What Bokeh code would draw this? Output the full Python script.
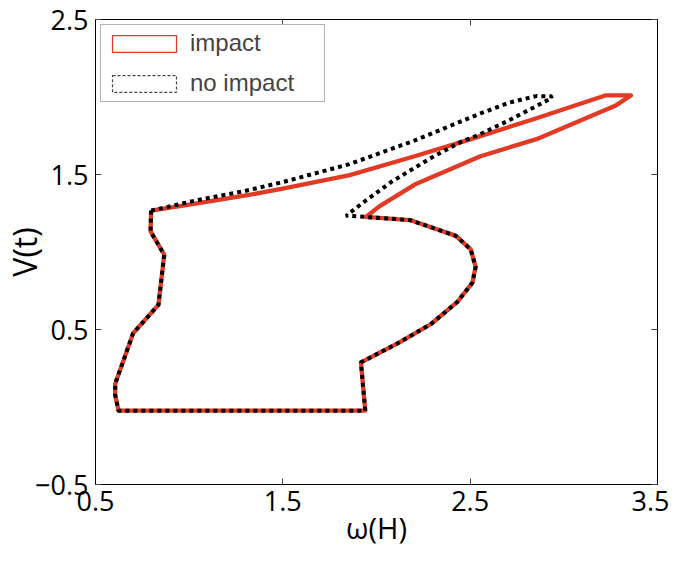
from bokeh.plotting import figure
from bokeh.models import LinearAxis, FixedTicker, Legend, LegendItem, Range1d
from bokeh.embed import file_html
from bokeh.resources import INLINE

# portion of the orbit shared by both cases (omega(H), V(t))
common_w = [0.797, 0.794, 0.867, 0.836, 0.701, 0.605, 0.605, 0.623, 1.940, 1.917,
            2.118, 2.293, 2.433, 2.512, 2.529, 2.503, 2.424, 2.179, 1.943]
common_v = [1.267, 1.133, 0.982, 0.659, 0.476, 0.149, 0.078, -0.024, -0.024, 0.288,
            0.414, 0.537, 0.680, 0.802, 0.904, 1.017, 1.104, 1.206, 1.226]

# "impact" branch (upper excursion)
impact_w = [2.015, 2.204, 2.555, 2.854, 3.274, 3.358, 3.221, 2.854, 2.487, 2.204,
            1.857, 1.506, 1.296, 1.034, 0.797]
impact_v = [1.294, 1.435, 1.618, 1.728, 1.943, 2.010, 2.010, 1.863, 1.722, 1.618,
            1.496, 1.410, 1.363, 1.312, 1.267]

# "no impact" branch (upper excursion)
noimpact_w = [1.838, 1.943, 2.083, 2.293, 2.450, 2.555, 2.713, 2.922, 2.938, 2.853,
              2.712, 2.555, 2.205, 1.856, 1.506, 1.296, 1.034, 0.797]
noimpact_v = [1.234, 1.332, 1.455, 1.608, 1.710, 1.761, 1.853, 1.985, 2.004, 2.006,
              1.965, 1.894, 1.720, 1.567, 1.453, 1.393, 1.332, 1.267]

x_ticks = [0.5, 1.5, 2.5, 3.5]
y_ticks = [-0.5, 0.5, 1.5, 2.5]
x_tick_labels = {0.5: "0.5", 1.5: "1.5", 2.5: "2.5", 3.5: "3.5"}
y_tick_labels = {-0.5: "\u22120.5", 0.5: "0.5", 1.5: "1.5", 2.5: "2.5"}

RED = "#e23a24"
TICK_FONT = "Open Sans"
NAN = float("nan")

p = figure(width=669, height=555, output_backend="svg", toolbar_location=None,
           x_range=Range1d(0.5, 3.5), y_range=Range1d(-0.5, 2.5),
           min_border_left=81, min_border_right=12, min_border_top=19,
           min_border_bottom=71)
p.xgrid.visible = False
p.ygrid.visible = False
p.outline_line_color = "black"
p.outline_line_width = 1
p.background_fill_color = "white"
p.border_fill_color = "white"

imp_x = common_w + impact_w
imp_y = common_v + impact_v
no_x = common_w + noimpact_w
no_y = common_v + noimpact_v

p.line(imp_x, imp_y, line_color=RED, line_width=4.3, line_join="round")
p.line(no_x, no_y, line_color="black", line_width=4, line_dash="4 4", line_cap="butt")

# legend swatches (not drawn in the plot area: NaN coordinates)
leg_imp = p.quad(left=[NAN], right=[NAN], top=[NAN], bottom=[NAN], fill_color=None,
                 line_color=RED, line_width=1.2)
leg_no = p.quad(left=[NAN], right=[NAN], top=[NAN], bottom=[NAN], fill_color=None,
                line_color="#444444", line_width=1.2, line_dash="3 2")

legend = Legend(items=[LegendItem(label="impact", renderers=[leg_imp]),
                       LegendItem(label="no impact", renderers=[leg_no])],
                location="top_left", margin=5, padding=3,
                glyph_width=80, glyph_height=21, label_standoff=6,
                label_height=30, label_width=131, spacing=10,
                label_text_font="Liberation Sans", label_text_font_size="24px",
                border_line_color="#666666", border_line_width=1.2,
                background_fill_alpha=1.0)
p.add_layout(legend, "center")

for ax in (p.xaxis[0], p.yaxis[0]):
    ax.axis_line_color = "black"
    ax.major_tick_in = 6
    ax.major_tick_out = 0
    ax.major_tick_line_color = "#444444"
    ax.minor_tick_line_color = None
    ax.major_label_text_font = TICK_FONT
    ax.major_label_text_font_size = "27px"
    ax.major_label_text_color = "black"
    ax.axis_label_text_font = TICK_FONT
    ax.axis_label_text_font_style = "normal"
    ax.axis_label_text_color = "black"

p.xaxis[0].ticker = FixedTicker(ticks=x_ticks)
p.xaxis[0].major_label_overrides = x_tick_labels
p.xaxis[0].axis_label = "\u03c9(H)"
p.xaxis[0].axis_label_text_font_size = "29px"
p.xaxis[0].major_label_standoff = 6
p.xaxis[0].axis_label_standoff = -6

p.yaxis[0].ticker = FixedTicker(ticks=y_ticks)
p.yaxis[0].major_label_overrides = y_tick_labels
p.yaxis[0].axis_label = "V(t)"
p.yaxis[0].axis_label_text_font_size = "32px"
p.yaxis[0].major_label_standoff = 7
p.yaxis[0].axis_label_standoff = -14

blank_x = {t: "" for t in x_ticks}
blank_y = {t: "" for t in y_ticks}
top_ax = LinearAxis(ticker=FixedTicker(ticks=x_ticks), major_label_overrides=blank_x,
                    major_tick_in=6, major_tick_out=0, major_label_standoff=0,
                    axis_line_color="black", major_tick_line_color="#444444",
                    minor_tick_line_color=None)
right_ax = LinearAxis(ticker=FixedTicker(ticks=y_ticks), major_label_overrides=blank_y,
                      major_tick_in=6, major_tick_out=0, major_label_standoff=0,
                      axis_line_color="black", major_tick_line_color="#444444",
                      minor_tick_line_color=None)
p.add_layout(top_ax, "above")
p.add_layout(right_ax, "right")

open("out.html", "w").write(file_html(p, INLINE))
